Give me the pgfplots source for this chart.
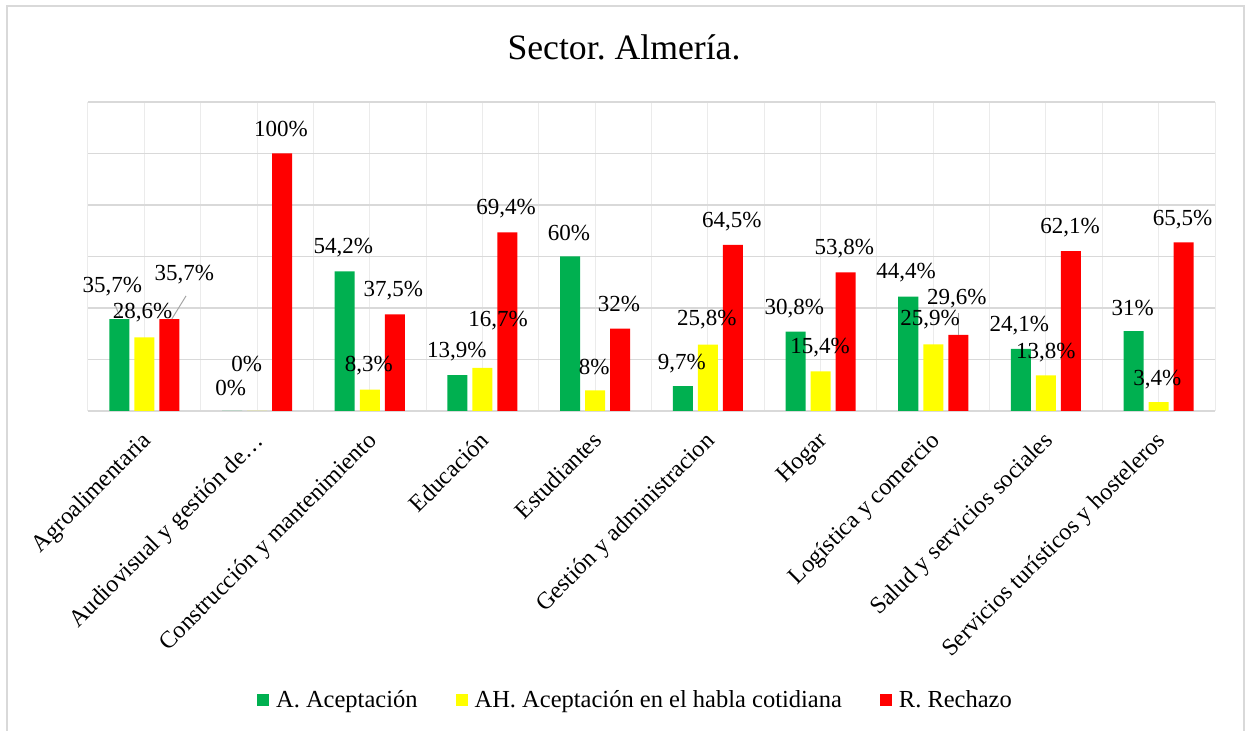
\documentclass[border=0pt]{standalone}
\usepackage{fontspec}
\setmainfont{Liberation Serif}
\usepackage{pgfplots}
\pgfplotsset{compat=1.18}
\usepackage{pgfplotstable}
\definecolor{cA}{HTML}{00B050}
\definecolor{cAH}{HTML}{FFFF00}
\definecolor{cR}{HTML}{FF0000}
\definecolor{gridc}{HTML}{D9D9D9}
\definecolor{vgridc}{HTML}{EBEBEB}
\definecolor{leader}{HTML}{A6A6A6}
\pgfplotsset{sq legend/.style={legend image code/.code={\fill[##1] (0pt,-6pt) rectangle (12pt,6pt); \path (17pt,0pt);}}}

\pgfplotstableread{
x A AH R
0 35.7 28.6 35.7
1 0 0 100
2 54.2 8.3 37.5
3 13.9 16.7 69.4
4 60 8 32
5 9.7 25.8 64.5
6 30.8 15.4 53.8
7 44.4 25.9 29.6
8 24.1 13.8 62.1
9 31 3.4 65.5
}\datatable

\begin{document}
\frenchspacing
\begin{tikzpicture}[x=1pt,y=1pt]
\useasboundingbox (0,0) rectangle (1248,731);
\draw[gridc, line width=1.3pt] (7,-2) -- (7,725) -- (1244,725) -- (1244,-2);
\node[font=\fontsize{35.7}{40}\selectfont, anchor=base, inner sep=0pt] at (624,671) {Sector. Almería.};
\begin{axis}[
  at={(88pt,320pt)}, anchor=south west,
  width=1127pt, height=309pt, scale only axis,
  xmin=-0.5, xmax=9.5, ymin=0, ymax=120,
  axis x line*=bottom, axis y line*=left,
  y axis line style={draw=none},
  x axis line style={gridc, line width=1.5pt},
  xtick={0,...,9},
  xticklabels={Agroalimentaria, Audiovisual y gestión de…, Construcción y mantenimiento, Educación, Estudiantes, Gestión y administracion, Hogar, Logística y comercio, Salud y servicios sociales, Servicios turísticos y hosteleros},
  x tick label style={font=\fontsize{24}{28}\selectfont, xshift=-4pt, yshift=-19pt, rotate=45, anchor=north east, inner sep=0pt},
  minor x tick num=1,
  extra x ticks={-0.5,9.5}, extra x tick labels={},
  extra x tick style={grid=major, major grid style={vgridc, line width=1pt}},
  xmajorgrids, xminorgrids,
  major x grid style={vgridc, line width=1pt},
  minor x grid style={vgridc, line width=1pt},
  ytick={0,20,...,120}, yticklabels={},
  ymajorgrids, major y grid style={gridc, line width=1.3pt},
  major tick length=0pt, minor tick length=0pt,
  tick style={draw=none},
  clip=false,
  legend columns=3,
  legend style={at={(0.4858,-0.935)}, anchor=center, draw=none, fill=none,
    font=\fontsize{24.5}{28}\selectfont, inner sep=0pt,
    /tikz/every even column/.append style={column sep=36pt}},
]
\addplot[ybar, bar width=0.1775, bar shift=-0.222, fill=cA, draw=none, sq legend] table[x=x, y=A] {\datatable};
\addlegendentry{A. Aceptación}
\addplot[ybar, bar width=0.1775, bar shift=0, fill=cAH, draw=none, sq legend] table[x=x, y=AH] {\datatable};
\addlegendentry{AH. Aceptación en el habla cotidiana}
\addplot[ybar, bar width=0.1775, bar shift=0.222, fill=cR, draw=none, sq legend] table[x=x, y=R] {\datatable};
\addlegendentry{R. Rechazo}

\draw[leader, line width=1pt] (axis cs:0.370,44.7) -- (axis cs:0.243,35.7);
\draw[leader, line width=1pt] (axis cs:-0.260,41.2) -- (axis cs:-0.216,36.6);
\draw[leader, line width=1pt] (axis cs:7.222,38.1) -- (axis cs:7.222,29.5);

\begin{scope}[every node/.style={font=\fontsize{23}{27}\selectfont, inner sep=0pt}]
\node at (axis cs:-0.284,48.2) {35,7\%};
\node at (axis cs:-0.015,38.2) {28,6\%};
\node at (axis cs:0.354,53.1) {35,7\%};
\node at (axis cs:1.2125,109.4) {100\%};
\node at (axis cs:0.908,18.1) {0\%};
\node at (axis cs:0.766,9.0) {0\%};
\node at (axis cs:1.765,63.4) {54,2\%};
\node at (axis cs:2.209,46.7) {37,5\%};
\node at (axis cs:1.991,17.5) {8,3\%};
\node at (axis cs:2.772,23.0) {13,9\%};
\node at (axis cs:3.138,35.0) {16,7\%};
\node at (axis cs:3.209,78.4) {69,4\%};
\node at (axis cs:3.768,69.0) {60\%};
\node at (axis cs:4.212,41.4) {32\%};
\node at (axis cs:3.992,17.2) {8\%};
\node at (axis cs:4.768,18.3) {9,7\%};
\node at (axis cs:4.990,35.3) {25,8\%};
\node at (axis cs:5.212,73.5) {64,5\%};
\node at (axis cs:5.767,39.6) {30,8\%};
\node at (axis cs:5.995,24.6) {15,4\%};
\node at (axis cs:6.211,62.9) {53,8\%};
\node at (axis cs:6.758,53.6) {44,4\%};
\node at (axis cs:7.208,43.5) {29,6\%};
\node at (axis cs:6.971,35.6) {25,9\%};
\node at (axis cs:7.763,33.0) {24,1\%};
\node at (axis cs:7.998,22.8) {13,8\%};
\node at (axis cs:8.213,71.3) {62,1\%};
\node at (axis cs:8.770,39.9) {31\%};
\node at (axis cs:8.988,12.0) {3,4\%};
\node at (axis cs:9.213,74.4) {65,5\%};
\end{scope}
\end{axis}
\end{tikzpicture}
\end{document}
